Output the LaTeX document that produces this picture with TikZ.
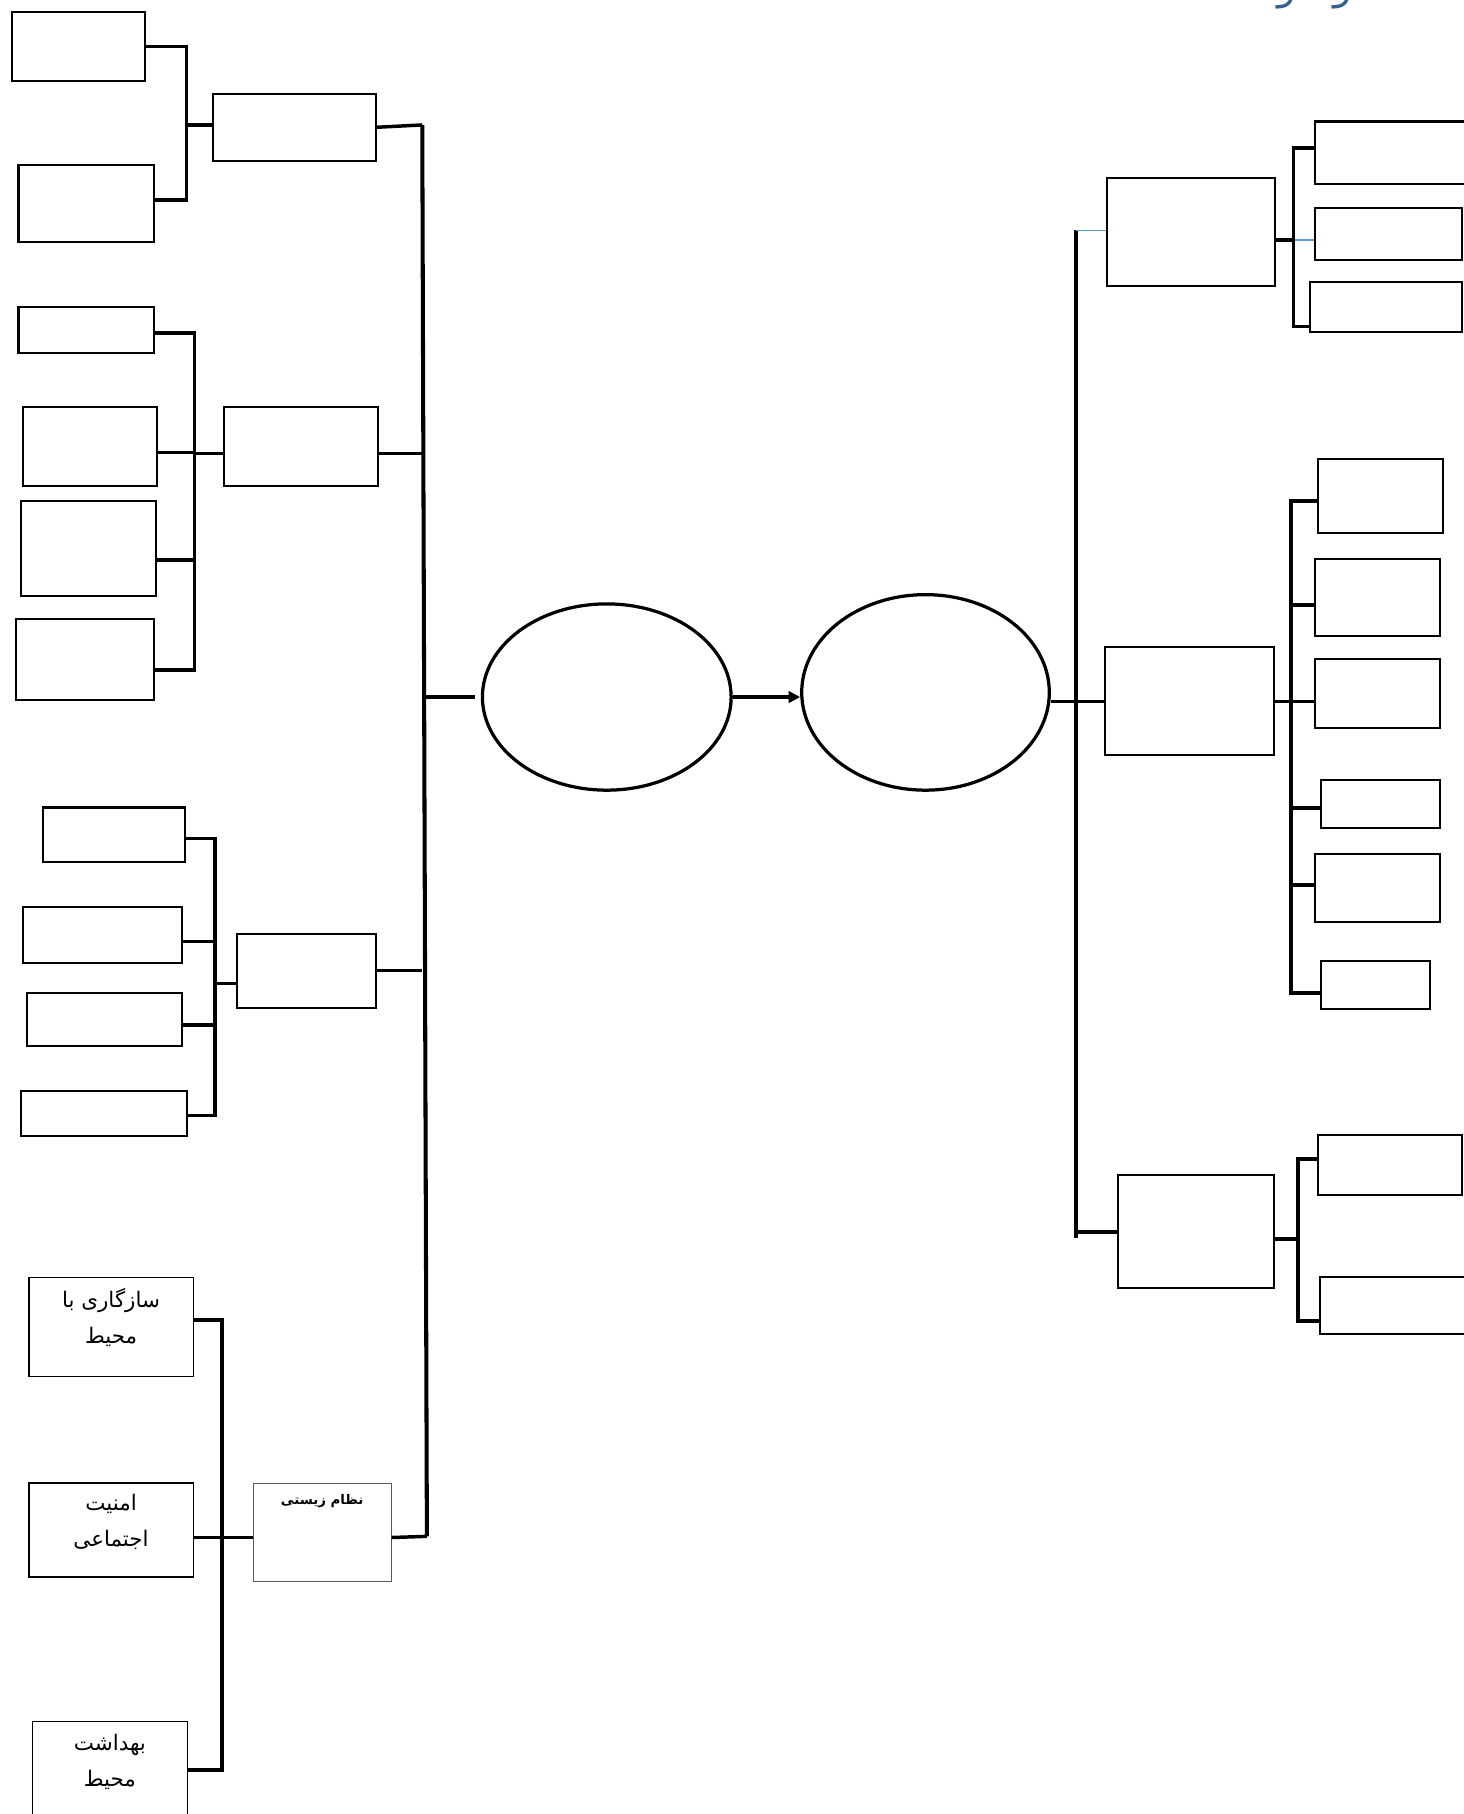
\documentclass[tikz,border=0pt]{standalone}
\usepackage{fontspec}
\usepackage{tikz}
\usetikzlibrary{shapes.geometric,arrows.meta,fit}
\TeXXeTstate=1
\newfontfamily\farsifont[Script=Arabic]{DejaVu Sans}
\definecolor{LineBlue}{RGB}{91,155,213}
\definecolor{HdrBlue} {RGB}{54,95,145}
\definecolor{SubLine} {RGB}{90,90,90}
\newcommand{\fa}[1]{\beginR#1\endR}
\tikzset{
  nd_box/.style={
    rectangle, draw=black, line width=1.8pt, inner sep=0pt},
  nd_txt/.style={
    rectangle, draw=black, line width=1.2pt, inner sep=0pt,
    align=center, font=\farsifont\fontsize{18.5}{31}\selectfont},
  nd_sub/.style={
    rectangle, draw=SubLine, line width=0.9pt, inner sep=0pt},
  nd_subtxt/.style={
    anchor=north, yshift=-10pt, inner sep=0pt,
    font=\farsifont\bfseries\fontsize{11.5}{13}\selectfont},
  nd_ell/.style={
    ellipse, draw=black, line width=2.8pt, inner sep=0pt},
  ttl/.style={
    inner sep=0pt, text=HdrBlue,
    font=\farsifont\fontsize{34}{38}\selectfont},
  conn/.style={line width=3pt},
  trunk/.style={line width=3.5pt},
  thin_blue/.style={draw=LineBlue, line width=1pt},
  arr/.style={-{Triangle[length=10pt,width=10pt]},line width=2.8pt},
}

\begin{document}
\begin{tikzpicture}[x=1pt,y=-1pt]

\useasboundingbox (0,0) rectangle (1265,1568);
\fill[white] (0,0) rectangle (1265,1568);

\node[ttl, anchor=base] (ttl) at (1137,0) {\beginR و\hspace{32pt}و\endR};

%% Left, group 1
\node[nd_box, fit={(10,10)(125,70)}]    (L1a){};
\node[nd_box, fit={(16,143)(133,209)}]  (L1b){};
\node[nd_box, fit={(184,81)(325,139)}]  (M1){};

%% Left, group 2
\node[nd_box, fit={(16,265)(133,305)}]  (L2a){};
\node[nd_box, fit={(20,352)(136,420)}]  (L2b){};
\node[nd_box, fit={(18,433)(135,515)}]  (L2c){};
\node[nd_box, fit={(14,535)(133,605)}]  (L2d){};
\node[nd_box, fit={(194,352)(327,420)}] (M2){};

%% Left, group 3
\node[nd_box, fit={(37,698)(160,745)}]  (L3a){};
\node[nd_box, fit={(20,784)(157,832)}]  (L3b){};
\node[nd_box, fit={(23,858)(157,904)}]  (L3c){};
\node[nd_box, fit={(18,943)(162,982)}]  (L3d){};
\node[nd_box, fit={(205,807)(325,871)}] (M3){};

%% Left, group 4
\node[nd_txt, fit={(25,1104)(167,1190)}] (L4a){\fa{سازگاری با}\\\fa{محیط}};
\node[nd_txt, fit={(25,1282)(167,1363)}] (L4b){\fa{امنیت}\\\fa{اجتماعی}};
\node[nd_txt, fit={(28,1488)(162,1572)}] (L4c){\fa{بهداشت}\\\fa{محیط}};
\node[nd_sub, fit={(219,1282)(338,1367)},
      label={[nd_subtxt]north:{\beginR نظام زیستی\endR}}] (M4){};

%% Centre
\node[nd_ell, minimum width=215pt, minimum height=161pt] at (524.5,602.5) (E1){};
\node[nd_ell, minimum width=214pt, minimum height=169pt] at (800,598.5)   (E2){};

%% Right, group 1
\node[nd_box, fit={(957,154)(1102,247)}]   (M5){};
\node[nd_box, fit={(1137,105)(1275,159)}]  (R1a){};
\node[nd_box, fit={(1137,180)(1264,225)}]  (R1b){};
\node[nd_box, fit={(1132,244)(1264,287)}]  (R1c){};

%% Right, group 2
\node[nd_box, fit={(955.5,559.5)(1101.6,653)}] (M6){};
\node[nd_box, fit={(1139,397)(1247,461)}]  (R2a){};
\node[nd_box, fit={(1137,483)(1245,550)}]  (R2b){};
\node[nd_box, fit={(1137,570)(1245,629)}]  (R2c){};
\node[nd_box, fit={(1142,674)(1245,716)}]  (R2d){};
\node[nd_box, fit={(1137,738)(1245,797)}]  (R2e){};
\node[nd_box, fit={(1142,831)(1236,872)}]  (R2f){};

%% Right, group 3
\node[nd_box, fit={(966,1016)(1101.6,1113.6)}] (M7){};
\node[nd_box, fit={(1139,981)(1264,1033)}]  (R3a){};
\node[nd_box, fit={(1141,1104)(1275,1153)}] (R3b){};

%% junctions and trunks
\coordinate (J1) at (161,108);
\coordinate (J2) at (168,392);
\coordinate (J3) at (186,850);
\coordinate (J4) at (192,1329);
\coordinate (LTtop) at (365,108);
\coordinate (LTbot) at (369,1328);
\coordinate (RTtop) at (930,199);
\coordinate (RTbot) at (930,1070);
\coordinate (K1) at (1118,207.5);
\coordinate (K2) at (1116,604);
\coordinate (K3) at (1122,1071);

\draw[trunk] (LTtop)--(LTbot);
\draw[trunk] (RTtop)--(RTbot);

\draw[conn] (L1a.east) -| (J1);
\draw[conn] ([yshift=3pt]L1b.east) -| (J1);
\draw[conn] (J1)--(J1 -| M1.west);
\draw[conn] (M1.east)--(LTtop);

\draw[conn] ([yshift=-3pt]L2a.east) -| (J2);
\draw[conn] ([yshift=-5pt]L2b.east) -| (J2);
\draw[conn] ([yshift=-10pt]L2c.east) -| (J2);
\draw[conn] ([yshift=-9pt]L2d.east) -| (J2);
\draw[conn] (J2)--(J2 -| M2.west);
\draw[conn] (J2 -| M2.east)--(J2 -| LTtop);

\draw[conn] ([yshift=-3.5pt]L3a.east) -| (J3);
\draw[conn] ([yshift=-6pt]L3b.east) -| (J3);
\draw[conn] ([yshift=-5pt]L3c.east) -| (J3);
\draw[conn] ([yshift=-1.5pt]L3d.east) -| (J3);
\draw[conn] (J3)--(J3 -| M3.west);
\draw[conn] (M3.east)--(M3.east -| LTtop);

\draw[conn] ([yshift=6pt]L4a.east) -| (J4);
\draw[conn] (L4b.east |- J4)--(J4 -| M4.west);
\draw[conn] (L4c.east) -| (J4);
\draw[conn] (J4 -| M4.east)--(LTbot);

\draw[conn] ([xshift=-47pt]E1.west)--([xshift=-5pt]E1.west);
\draw[arr] (E1.east)--(E1.east -| E2.west);
\draw[conn] (M6.west -| E2.east)--(M6.west);

\draw[thin_blue] (RTtop)--(RTtop -| M5.west);
\draw[conn] (K1 -| M5.east)--(K1);
\draw[thin_blue] (K1)--(K1 -| R1b.west);
\draw[conn] ([yshift=4pt]R1a.west) -| (K1);
\draw[conn] ([yshift=-16.5pt]R1c.west) -| (K1);

\draw[conn] (M6.east)--(M6.east -| R2c.west);
\draw[conn] ([yshift=-4pt]R2a.west) -| (K2);
\draw[conn] ([yshift=-6.5pt]R2b.west) -| (K2);
\draw[conn] ([yshift=-3.6pt]R2d.west) -| (K2);
\draw[conn] ([yshift=2.5pt]R2e.west) -| (K2);
\draw[conn] ([yshift=-7pt]R2f.west) -| (K2);

\draw[conn] (M7.west -| RTtop)--(M7.west);
\draw[conn] (K3 -| M7.east)--(K3);
\draw[conn] ([yshift=5pt]R3a.west) -| (K3);
\draw[conn] ([yshift=-13.5pt]R3b.west) -| (K3);

\end{tikzpicture}
\end{document}
